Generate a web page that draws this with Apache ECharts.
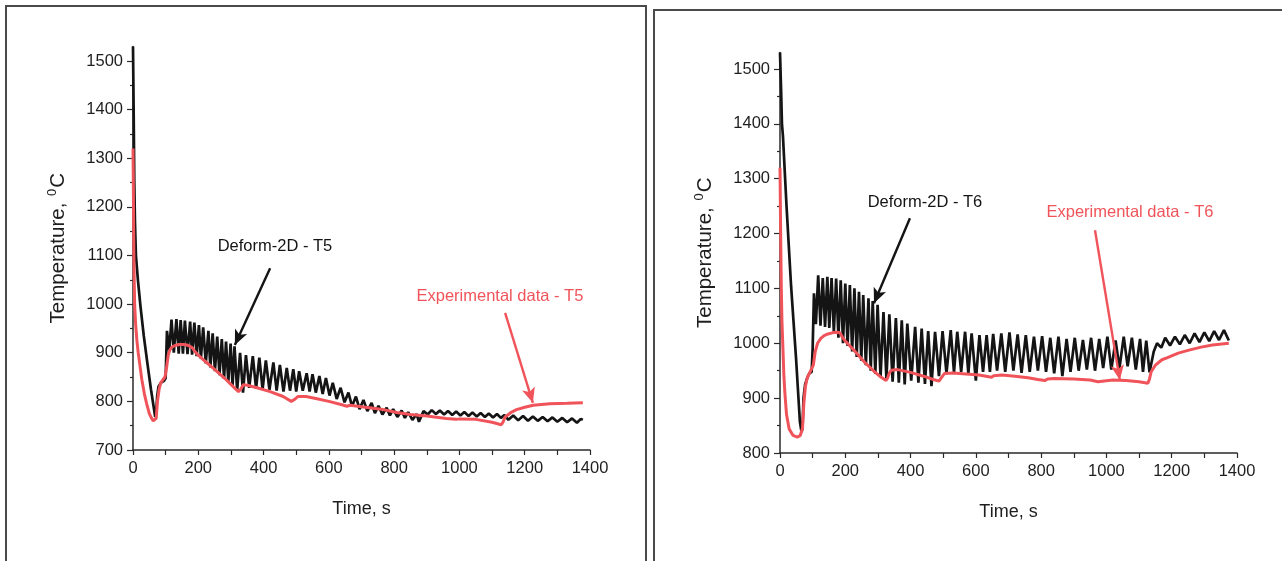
<!DOCTYPE html>
<html><head><meta charset="utf-8">
<script src="https://cdn.jsdelivr.net/npm/echarts@6/dist/echarts.min.js"></script>
<style>html,body{margin:0;padding:0;background:#fff}#c{width:1282px;height:561px}</style>
</head><body><div id="c"></div>
<script>
// ---- tick values ----
const xTicks = [0, 200, 400, 600, 800, 1000, 1200, 1400];
const yTicksT5 = [700, 800, 900, 1000, 1100, 1200, 1300, 1400, 1500];
const yMinorT5 = [750, 850, 950, 1050, 1150, 1250, 1350, 1450];
const yTicksT6 = [800, 900, 1000, 1100, 1200, 1300, 1400, 1500];
const yMinorT6 = [850, 950, 1050, 1150, 1250, 1350, 1450];

// ---- series: [time s, temperature C] ----
const simT5 = [[0,1530],[2,1400],[4,1250],[6,1170],[9,1100],[15,1050],[23,995],[33,935],[44,879],[55,825],[63,790],[68,768],[71,775],[74,810],[78,830],[85,838],[95,842],[100,848],[104,945],[111,905],[118,968],[125,900],[133,969],[140,898],[146,967],[153,898],[159,966],[167,897],[175,964],[181,896],[188,962],[195,893],[202,957],[208,888],[215,952],[223,878],[231,945],[237,870],[244,940],[251,862],[258,933],[265,854],[272,928],[279,846],[285,923],[292,840],[299,919],[305,832],[311,913],[319,822],[328,900],[337,818],[346,895],[356,828],[367,893],[377,826],[387,890],[397,825],[407,884],[418,824],[430,880],[440,822],[450,875],[461,820],[471,869],[481,822],[491,866],[500,820],[509,862],[520,822],[532,858],[541,820],[550,856],[560,818],[571,852],[581,815],[591,848],[602,812],[612,838],[624,805],[636,828],[648,798],[660,818],[671,790],[683,810],[694,784],[706,803],[718,780],[731,797],[741,776],[752,791],[764,773],[777,787],[787,771],[797,784],[810,768],[823,781],[833,766],[843,778],[856,762],[869,774],[876,758],[890,780],[903,773],[915,782],[928,774],[940,781],[953,773],[965,780],[978,772],[990,779],[1003,771],[1015,778],[1028,770],[1040,777],[1053,769],[1065,776],[1078,768],[1090,775],[1103,767],[1115,774],[1127,766],[1138,772],[1150,762],[1165,771],[1180,761],[1195,770],[1210,760],[1225,769],[1240,760],[1255,768],[1270,759],[1285,767],[1300,758],[1315,766],[1330,757],[1345,765],[1360,756],[1372,764],[1378,762]];
const expT5 = [[0,1320],[1,1250],[2,1150],[3,1080],[5,1000],[8,960],[12,925],[16,900],[22,870],[27,845],[35,815],[42,795],[50,775],[57,765],[62,760],[68,759],[71,765],[75,800],[80,825],[85,838],[92,845],[98,850],[103,870],[108,895],[113,906],[120,912],[130,915],[140,917],[155,917],[165,916],[175,913],[182,910],[190,902],[200,895],[220,883],[250,866],[280,848],[300,835],[315,825],[323,820],[330,825],[338,834],[350,833],[380,828],[420,820],[460,810],[485,800],[491,797],[497,805],[505,810],[530,810],[560,806],[600,800],[640,793],[655,790],[665,792],[700,789],[760,784],[808,777],[850,773],[900,770],[960,765],[990,763],[1000,764],[1050,763],[1100,757],[1128,752],[1134,758],[1140,768],[1160,778],[1175,783],[1200,788],[1226,792],[1277,795],[1330,796],[1378,797]];
const simT6 = [[0,1530],[3,1470],[6,1400],[9,1378],[20,1250],[34,1104],[49,974],[61,857],[66,838],[69,845],[72,900],[77,925],[84,938],[90,945],[97,948],[100,990],[104,1091],[110,1035],[117,1124],[124,1032],[131,1119],[138,1030],[145,1121],[151,1028],[158,1119],[165,1020],[172,1118],[179,1010],[186,1115],[193,1000],[200,1109],[207,995],[214,1106],[221,985],[228,1100],[235,975],[242,1094],[249,968],[255,1088],[263,960],[271,1082],[278,950],[284,1077],[292,944],[299,1070],[308,938],[317,1057],[326,935],[335,1053],[345,930],[355,1046],[364,928],[373,1042],[382,925],[390,1036],[402,932],[414,1030],[424,928],[434,1027],[444,926],[454,1022],[464,922],[475,1021],[487,940],[498,1022],[510,945],[523,1024],[533,947],[543,1021],[555,948],[567,1021],[577,945],[587,1018],[600,932],[611,1015],[622,948],[633,1015],[643,948],[653,1017],[665,950],[678,1018],[690,948],[703,1020],[715,950],[728,1016],[740,946],[753,1015],[765,948],[778,1012],[790,950],[803,1013],[815,948],[828,1010],[840,945],[853,1012],[865,940],[878,1008],[890,948],[903,1010],[915,950],[928,1006],[940,952],[953,1010],[965,950],[978,1008],[990,955],[1003,1012],[1015,952],[1028,1005],[1040,955],[1053,1012],[1065,958],[1078,1010],[1090,952],[1103,1008],[1112,948],[1122,1005],[1132,947],[1145,985],[1155,1000],[1168,992],[1180,1010],[1195,996],[1210,1012],[1225,998],[1240,1015],[1255,1000],[1270,1018],[1285,1002],[1300,1020],[1315,1004],[1330,1022],[1345,1006],[1360,1024],[1375,1005]];
const expT6 = [[0,1320],[2,1200],[4,1100],[6,1040],[9,990],[12,940],[15,909],[20,870],[28,844],[40,832],[53,829],[62,832],[69,845],[73,890],[78,922],[84,938],[90,945],[96,946],[102,960],[108,985],[115,1000],[125,1009],[135,1014],[147,1017],[160,1019],[172,1020],[184,1019],[190,1012],[200,1004],[230,985],[260,965],[290,948],[310,938],[325,932],[330,937],[335,946],[341,951],[360,952],[400,947],[440,940],[470,934],[487,931],[494,937],[504,945],[530,946],[570,944],[610,942],[648,938],[655,941],[680,942],[720,940],[760,937],[790,934],[811,932],[820,935],[840,936],[900,935],[950,933],[974,930],[980,933],[1020,933],[1060,932],[1100,930],[1127,927],[1132,935],[1137,948],[1150,960],[1170,970],[1187,974],[1220,982],[1250,987],[1290,993],[1325,997],[1375,1000]];

// ---- annotations (data coordinates) ----
const simNameT5 = 'Deform-2D - T5', expNameT5 = 'Experimental data - T5';
const simNameT6 = 'Deform-2D - T6', expNameT6 = 'Experimental data - T6';
const simArrowT5 = [[420, 1074], [312, 916]], simTextT5 = [435, 1118];
const expArrowT5 = [[1140, 982], [1225, 797]], expTextT5 = [1124, 1015];
const simArrowT6 = [[398, 1228], [288, 1073]], simTextT6 = [444, 1257];
const expArrowT6 = [[965, 1206], [1041, 933]], expTextT6 = [1072, 1239];

const FONT = '"Liberation Sans", Arial, sans-serif';
const AX = '#2a2a2a', TXT = '#1e1e1e', RED = '#f0545a', BLK = '#141414';
const plain = v => String(v);

function xAxis(gi) {
  return {
    type: 'value', gridIndex: gi, min: 0, max: 1400, interval: 200,
    axisLine: { show: true, onZero: false, lineStyle: { color: AX, width: 1.5 } },
    axisTick: { show: true, length: 5, lineStyle: { color: AX, width: 1.2 } },
    minorTick: { show: true, splitNumber: 2, length: 5, lineStyle: { color: AX, width: 1.2 } },
    axisLabel: { customValues: xTicks, formatter: plain, fontFamily: FONT, fontSize: 16.5, color: TXT, margin: 10 },
    splitLine: { show: false },
    name: 'Time, s', nameLocation: 'middle', nameGap: 50,
    nameTextStyle: { fontFamily: FONT, fontSize: 18, color: TXT }
  };
}
function yAxes(gi, min, ticks, minors, gap) {
  return [{
    type: 'value', gridIndex: gi, min: min, max: 1530, position: 'left',
    axisLine: { show: true, onZero: false, lineStyle: { color: AX, width: 1.5 } },
    axisTick: { show: true, customValues: ticks, length: 6, lineStyle: { color: AX, width: 1.2 } },
    axisLabel: { show: true, customValues: ticks, formatter: plain, fontFamily: FONT, fontSize: 16.5, color: TXT, margin: 10 },
    splitLine: { show: false },
    name: 'Temperature, {s|0}C', nameLocation: 'middle', nameGap: gap,
    nameTextStyle: { fontFamily: FONT, fontSize: 20.5, color: TXT,
      rich: { s: { fontFamily: FONT, fontSize: 13, color: TXT, verticalAlign: 'bottom', padding: [0, 1, 11, 1] } } }
  }, {
    type: 'value', gridIndex: gi, min: min, max: 1530, position: 'left', offset: 0,
    axisLine: { show: false }, axisLabel: { show: false }, splitLine: { show: false },
    axisTick: { show: true, customValues: minors, length: 3, lineStyle: { color: AX, width: 1.2 } }
  }];
}
function textPoint(pos, text, color) {
  return { coord: pos, symbol: 'circle', symbolSize: 1, itemStyle: { color: 'rgba(0,0,0,0)' },
    label: { show: true, position: 'inside', formatter: text, color: color, fontFamily: FONT, fontSize: 16.5 } };
}
function lineSeries(xi, yi, data, color, width, arrow, textPos, text) {
  return {
    type: 'line', xAxisIndex: xi, yAxisIndex: yi, data: data, showSymbol: false, symbol: 'none',
    lineStyle: { color: color, width: width }, itemStyle: { color: color }, animation: false, silent: true,
    markLine: { silent: true, animation: false, symbol: ['none', 'arrow'], symbolSize: [10, 15],
      lineStyle: { color: color, width: 2.4, type: 'solid' }, label: { show: false },
      data: [[{ coord: arrow[0] }, { coord: arrow[1] }]] },
    markPoint: { silent: true, animation: false, data: [textPoint(textPos, text, color)] }
  };
}

const chart = echarts.init(document.getElementById('c'), null, { renderer: 'canvas' });
const ya = yAxes(0, 700, yTicksT5, yMinorT5, 63);
const yb = yAxes(1, 800, yTicksT6, yMinorT6, 63);
chart.setOption({
  backgroundColor: '#ffffff',
  animation: false,
  grid: [
    { left: 133, top: 46.4, width: 457, height: 403.6 },
    { left: 780, top: 52.5, width: 457, height: 400.5 }
  ],
  xAxis: [xAxis(0), xAxis(1)],
  yAxis: [ya[0], ya[1], yb[0], yb[1]],
  series: [
    lineSeries(0, 0, simT5, BLK, 2.7, simArrowT5, simTextT5, simNameT5),
    lineSeries(0, 0, expT5, RED, 3, expArrowT5, expTextT5, expNameT5),
    lineSeries(1, 2, simT6, BLK, 2.7, simArrowT6, simTextT6, simNameT6),
    lineSeries(1, 2, expT6, RED, 3, expArrowT6, expTextT6, expNameT6)
  ],
  graphic: [
    { type: 'rect', shape: { x: 6, y: 6, width: 640, height: 600 }, style: { fill: 'none', stroke: '#4a4a4a', lineWidth: 2 }, silent: true },
    { type: 'rect', shape: { x: 654, y: 10, width: 640, height: 600 }, style: { fill: 'none', stroke: '#4a4a4a', lineWidth: 2 }, silent: true }
  ]
});
</script>
</body></html>
